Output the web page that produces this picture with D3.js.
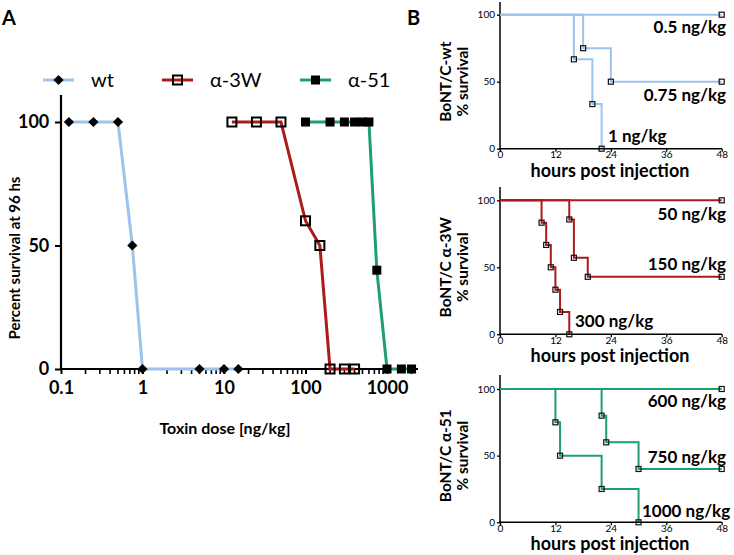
<!DOCTYPE html>
<html><head><meta charset="utf-8">
<script src="https://cdn.jsdelivr.net/npm/d3@7"></script>
<style>
body{margin:0;background:#fff;}
svg{font-family:Lato,"Open Sans",sans-serif;}
</style></head>
<body><svg id="c" width="734" height="555"></svg>
<script>
// ---------- Panel A data ----------
const seriesNames = ["wt", "α-3W", "α-51"];
const wtDose = [0.125, 0.25, 0.5, 0.75, 1, 5, 10, 15];
const wtSurv = [100, 100, 100, 50, 0, 0, 0, 0];
const a3wDose = [12.5, 25, 50, 100, 150, 200, 300, 400];
const a3wSurv = [100, 100, 100, 60, 50, 0, 0, 0];
const a51Dose = [100, 200, 300, 400, 500, 600, 750, 1000, 1500, 2000];
const a51Surv = [100, 100, 100, 100, 100, 100, 40, 0, 0, 0];
const yTicksA = [0, 50, 100];
const xMajorA = [0.1, 1, 10, 100, 1000];
const xLabelsA = ["0.1", "1", "10", "100", "1000"];

// ---------- Panel B data (Kaplan-Meier: event times, survival after event) ----------
const hoursTicks = [0, 12, 24, 36, 48];
const survTicks = [0, 50, 100];
const wtLabels = ["0.5 ng/kg", "0.75 ng/kg", "1 ng/kg"];
const wtTimes = [[], [18, 24], [16, 20, 22]];
const wtKM = [[], [75, 50], [66.7, 33.3, 0]];
const a3wLabels = ["50 ng/kg", "150 ng/kg", "300 ng/kg"];
const a3wTimes = [[], [15, 16, 19], [9, 10, 11, 12, 13, 15]];
const a3wKM = [[], [85.7, 57.1, 42.9], [83.3, 66.7, 50, 33.3, 16.7, 0]];
const a51Labels = ["600 ng/kg", "750 ng/kg", "1000 ng/kg"];
const a51Times = [[], [22, 23, 30], [12, 13, 22, 30]];
const a51KM = [[], [80, 60, 40], [75, 50, 25, 0]];

const colors = ["#9cc3ec", "#ad1a1a", "#1d9f6e"];
const svg = d3.select("#c");

// ---------- Panel A ----------
const xA = d3.scaleLog().domain([0.1, 2400]).range([61, 418]);
const yA = d3.scaleLinear().domain([0, 100]).range([369, 122]);

svg.append("text").attr("x", 2).attr("y", 25).attr("font-size", 20).attr("font-weight", "bold").text("A");
svg.append("text").attr("x", 407).attr("y", 25).attr("font-size", 20).attr("font-weight", "bold").text("B");

// axes
const minorA = [];
for (let e = -1; e <= 3; e++) for (let m = 2; m <= 9; m++) { const v = m * Math.pow(10, e); if (v <= 2000) minorA.push(v); }
const gx = svg.append("g").attr("transform", "translate(0,369)");
gx.call(d3.axisBottom(xA).tickValues(xMajorA).tickSize(5).tickFormat((d, i) => xLabelsA[i]));
gx.call(g => g.select(".domain").remove());
gx.selectAll(".tick line").attr("stroke", "#000").attr("stroke-width", 2);
gx.selectAll(".tick text").attr("font-size", 18).attr("font-weight", "bold").attr("font-family", "Lato").attr("fill", "#000").attr("dy", "0.95em");
svg.append("g").selectAll("line").data(minorA).join("line")
  .attr("x1", d => xA(d)).attr("x2", d => xA(d)).attr("y1", 369).attr("y2", 374)
  .attr("stroke", "#000").attr("stroke-width", 1.6);
svg.append("line").attr("x1", 60).attr("x2", 418).attr("y1", 369).attr("y2", 369).attr("stroke", "#000").attr("stroke-width", 2.2);

const gy = svg.append("g").attr("transform", "translate(61,0)");
gy.call(d3.axisLeft(yA).tickValues(yTicksA).tickSize(6));
gy.call(g => g.select(".domain").remove());
gy.selectAll(".tick line").attr("stroke", "#000").attr("stroke-width", 2);
gy.selectAll(".tick text").attr("font-size", 18).attr("font-weight", "bold").attr("font-family", "Lato").attr("fill", "#000").attr("dx", "-0.15em");
svg.append("line").attr("x1", 61).attr("x2", 61).attr("y1", 95).attr("y2", 370).attr("stroke", "#000").attr("stroke-width", 2.2);

svg.append("text").attr("x", 225).attr("y", 434).attr("text-anchor", "middle").attr("font-size", 16).attr("font-weight", "bold").text("Toxin dose [ng/kg]");
svg.append("text").attr("transform", "translate(20,258) rotate(-90)").attr("text-anchor", "middle").attr("font-size", 15).attr("font-weight", "bold").text("Percent survival at 96 hs");

const seriesA = [
  {dose: wtDose, surv: wtSurv, marker: "diamond"},
  {dose: a3wDose, surv: a3wSurv, marker: "open"},
  {dose: a51Dose, surv: a51Surv, marker: "filled"}
];
const lineA = d3.line().x(d => xA(d[0])).y(d => yA(d[1]));
function drawMarker(g, type, x, y) {
  if (type === "diamond") {
    g.append("path").attr("d", d3.symbol(d3.symbolSquare, 52)())
      .attr("transform", `translate(${x},${y}) rotate(45)`).attr("fill", "#000");
  } else if (type === "open") {
    g.append("rect").attr("x", x - 4.5).attr("y", y - 4.5).attr("width", 9).attr("height", 9)
      .attr("fill", "none").attr("stroke", "#000").attr("stroke-width", 2);
  } else {
    g.append("rect").attr("x", x - 4.5).attr("y", y - 4.5).attr("width", 9).attr("height", 9).attr("fill", "#000");
  }
}
seriesA.forEach((s, i) => {
  const pts = s.dose.map((d, j) => [d, s.surv[j]]);
  svg.append("path").attr("d", lineA(pts)).attr("fill", "none").attr("stroke", colors[i]).attr("stroke-width", 3);
  const g = svg.append("g");
  pts.forEach(p => drawMarker(g, s.marker, xA(p[0]), yA(p[1])));
});

// legend
const legX = [43, 162, 300];
seriesA.forEach((s, i) => {
  const g = svg.append("g");
  g.append("line").attr("x1", legX[i]).attr("x2", legX[i] + 31).attr("y1", 80).attr("y2", 80).attr("stroke", colors[i]).attr("stroke-width", 3);
  drawMarker(g, s.marker, legX[i] + 15.5, 80);
  g.append("text").attr("x", legX[i] + 48).attr("y", 87).attr("font-size", 20).attr("font-family", "Lato").text(seriesNames[i]);
});

// ---------- Panel B ----------
const panels = [
  {top: 2, y100: 14.7, y0: 148.7, title: "BoNT/C-wt", labels: wtLabels, times: wtTimes, km: wtKM, color: colors[0],
   labelPos: [[726, 33, "end"], [726, 101, "end"], [608, 142, "start"]]},
  {top: 187, y100: 200.3, y0: 334.3, title: "BoNT/C α-3W", labels: a3wLabels, times: a3wTimes, km: a3wKM, color: colors[1],
   labelPos: [[726, 220, "end"], [726, 270, "end"], [575, 327, "start"]]},
  {top: 375, y100: 389, y0: 522.3, title: "BoNT/C α-51", labels: a51Labels, times: a51Times, km: a51KM, color: colors[2],
   labelPos: [[726, 407, "end"], [726, 463, "end"], [642, 517, "start"]]}
];
const xB = d3.scaleLinear().domain([0, 48]).range([500, 721.7]);
panels.forEach(p => {
  const yB = d3.scaleLinear().domain([0, 100]).range([p.y0, p.y100]);
  const g = svg.append("g");
  const ax = g.append("g").attr("transform", `translate(0,${p.y0})`).call(d3.axisBottom(xB).tickValues(hoursTicks).tickSize(3));
  ax.select(".domain").remove();
  ax.selectAll(".tick line").attr("stroke", "#000").attr("stroke-width", 1.3);
  ax.selectAll(".tick text").attr("y", 2.5).attr("font-size", 10).attr("font-family", "Lato").attr("fill", "#000").attr("dy", "0.7em");
  const ay = g.append("g").attr("transform", "translate(500,0)").call(d3.axisLeft(yB).tickValues(survTicks).tickSize(3));
  ay.select(".domain").remove();
  ay.selectAll(".tick line").attr("stroke", "#000").attr("stroke-width", 1.3);
  ay.selectAll(".tick text").attr("font-size", 10).attr("font-family", "Lato").attr("fill", "#000").attr("dx", "0.1em");
  g.append("line").attr("x1", 500).attr("x2", 500).attr("y1", p.top).attr("y2", p.y0 + 0.7).attr("stroke", "#000").attr("stroke-width", 1.5);

  // curves
  p.times.forEach((ts, ci) => {
    let s = 100;
    const path = [[0, 100]];
    const marks = [];
    ts.forEach((t, k) => {
      path.push([t, s]);
      s = p.km[ci][k];
      path.push([t, s]);
      marks.push([t, s]);
    });
    if (s > 0) { path.push([48, s]); marks.push([48, s]); }
    g.append("path").attr("d", d3.line().x(d => xB(d[0])).y(d => yB(d[1]))(path))
      .attr("fill", "none").attr("stroke", p.color).attr("stroke-width", 2);
    marks.forEach(m => g.append("rect").attr("x", xB(m[0]) - 2.5).attr("y", yB(m[1]) - 2.5).attr("width", 5).attr("height", 5)
      .attr("fill", "none").attr("stroke", "#111").attr("stroke-width", 1.2));
    const lp = p.labelPos[ci];
    g.append("text").attr("x", lp[0]).attr("y", lp[1]).attr("text-anchor", lp[2]).attr("font-size", 17).attr("font-weight", "bold").text(p.labels[ci]);
  });
  g.append("line").attr("x1", 499).attr("x2", 722).attr("y1", p.y0).attr("y2", p.y0).attr("stroke", "#000").attr("stroke-width", 1.5);

  g.append("text").attr("x", 610).attr("y", p.y0 + 28).attr("text-anchor", "middle").attr("font-size", 18).attr("font-weight", "bold").text("hours post injection");
  const cy = (p.y0 + p.y100) / 2;
  g.append("text").attr("transform", `translate(451,${cy}) rotate(-90)`).attr("text-anchor", "middle").attr("font-size", 15.5).attr("font-weight", "bold").text(p.title);
  g.append("text").attr("transform", `translate(468,${cy}) rotate(-90)`).attr("text-anchor", "middle").attr("font-size", 15.5).attr("font-weight", "bold").text("% survival");
});
</script></body></html>
